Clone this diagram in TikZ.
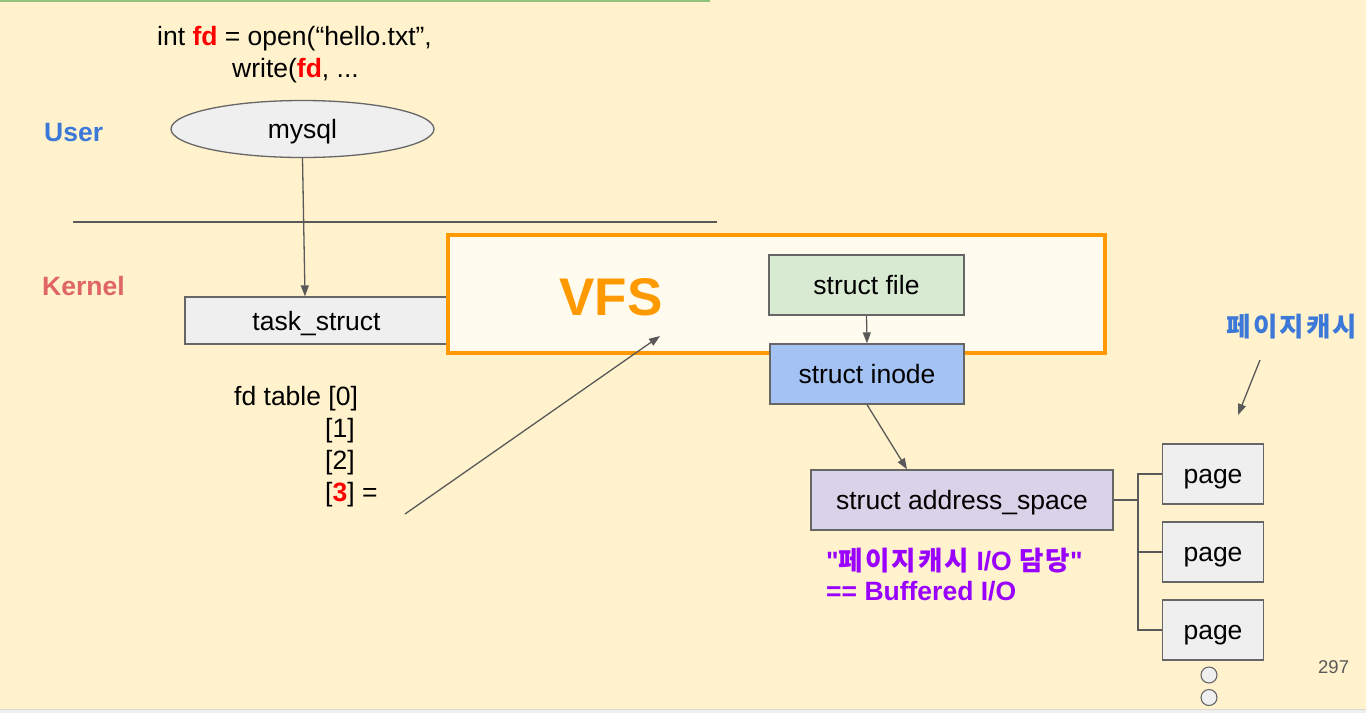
\documentclass[tikz,border=0pt]{standalone}
\usepackage{fontspec}
\setmainfont{Liberation Sans}[Ligatures=TeXOff]
\newfontfamily\kr{Noto Sans CJK KR}[LetterSpace=8]
\usetikzlibrary{arrows.meta,shapes.geometric}
\definecolor{bgc}{HTML}{FFF2CC}
\definecolor{linec}{HTML}{595959}
\definecolor{boxline}{HTML}{666666}
\definecolor{greyfill}{HTML}{EFEFEF}
\definecolor{vfsorange}{HTML}{FF9900}
\definecolor{ivory}{HTML}{FFFCEF}
\definecolor{filegreen}{HTML}{D9EAD3}
\definecolor{inodeblue}{HTML}{A4C2F4}
\definecolor{aspurple}{HTML}{D9D2E9}
\definecolor{userblue}{HTML}{3C78D8}
\definecolor{kernelred}{HTML}{E06666}
\definecolor{txtpurple}{HTML}{9900FF}
\definecolor{topgreen}{HTML}{93C47D}
\definecolor{codered}{HTML}{FF0000}
\newcommand\myfs{\fontsize{26.5}{32}\selectfont}
\begin{document}
\begin{tikzpicture}[x=1pt,y=-1pt,
  boxnode/.style={draw=boxline, line width=1.3pt, inner sep=0pt, font=\myfs,
    text height=23pt, text depth=3.5pt},
  txt/.style={inner sep=0pt, anchor=base west, font=\myfs},
  conn/.style={draw=linec, line width=1.3pt},
  arr/.style={conn, -{Triangle[length=11pt,width=8pt]}}
]
\useasboundingbox (0,0) rectangle (1366,713);
\fill[bgc] (0,0) rectangle (1366,709);
\fill[greyfill] (0,709) rectangle (1366,713);
\draw[color=black!15, line width=1pt] (0,709.5) -- (1366,709.5);
\draw[topgreen, line width=2pt] (0,0.8) -- (710,0.8);

% code text
\node[txt] (code1) at (157,45) {int \textcolor{codered}{\bfseries fd} = open(“hello.txt”,};
\node[txt] (code2) at (232,77) {write(\textcolor{codered}{\bfseries fd}, ...};

% labels
\node[txt, font=\myfs\bfseries, text=userblue] (user) at (44,141) {User};
\node[txt, font=\myfs\bfseries, text=kernelred] (kernel) at (42,295) {Kernel};

% user/kernel separator
\coordinate (sepL) at (73,222);
\coordinate (sepR) at (717,222);
\draw[conn] (sepL) -- (sepR);

% mysql
\node[ellipse, draw=boxline, line width=1.3pt, fill=greyfill, minimum width=263pt,
  minimum height=57pt, inner sep=0pt, font=\myfs, text height=23pt, text depth=3.5pt]
  (mysql) at (302.5,129) {mysql};

% task_struct
\node[boxnode, fill=greyfill, minimum width=263pt, minimum height=47pt] (task) at (316.5,320.5) {task\_struct};

% VFS container
\node[draw=vfsorange, line width=3.5pt, fill=ivory, minimum width=657pt, minimum height=118pt, inner sep=0pt]
  (vfs) at (776.5,294) {};
\node[inner sep=0pt, anchor=base, font=\fontsize{53}{60}\selectfont\bfseries, text=vfsorange] (vfst) at (611,315) {VFS};

\node[boxnode, fill=filegreen, minimum width=195pt, minimum height=60pt] (file) at (866.5,285) {struct file};
\node[boxnode, fill=inodeblue, minimum width=194pt, minimum height=60pt] (inode) at (867,374) {struct inode};
\node[boxnode, fill=aspurple, minimum width=302pt, minimum height=60pt] (as) at (962,500) {struct address\_space};

% pages
\node[boxnode, fill=greyfill, minimum width=101pt, minimum height=60pt] (p1) at (1213,474) {page};
\node[boxnode, fill=greyfill, minimum width=101pt, minimum height=60pt] (p2) at (1213,552) {page};
\node[boxnode, fill=greyfill, minimum width=101pt, minimum height=60pt] (p3) at (1213,630) {page};
\node[circle, draw=boxline, line width=1.1pt, fill=greyfill, minimum size=16pt, inner sep=0pt] (c1) at (1209,675) {};
\node[circle, draw=boxline, line width=1.1pt, fill=greyfill, minimum size=16pt, inner sep=0pt] (c2) at (1209,697.5) {};

% fd table
\node[txt] (fd0) at (234,405) {fd table [0]};
\node[txt] (fd1) at (325,437) {[1]};
\node[txt] (fd2) at (325,469) {[2]};
\node[txt] (fd3) at (325,501) {[\textcolor{codered}{\bfseries 3}] =};

% page cache label
\node[inner sep=0pt, font=\fontsize{26.5}{32}\kr\bfseries, text=userblue] (pclabel) at (1292,327) {페이지캐시};

% purple note
\node[txt, font=\myfs\bfseries, text=txtpurple] (note1) at (826,570) {"{\kr 페이지캐시} I/O {\kr 담당}"};
\node[txt, font=\myfs\bfseries, text=txtpurple] (note2) at (826,600) {== Buffered I/O};

% slide number
\node[txt, font=\fontsize{18.5}{22}\selectfont, text=linec] (num) at (1318,673) {297};

% connectors
\draw[arr] (mysql.south) -- ([xshift=-11.5pt]task.north);
\draw[arr] (file.south) -- (inode.north);
\draw[arr] (inode.south) -- ([xshift=-55pt]as.north);
\coordinate (fdfrom) at (405,514);
\coordinate (fdto) at (660,336);
\draw[arr] (fdfrom) -- (fdto);
\coordinate (pcfrom) at (1260,360);
\coordinate (pcto) at (1238,415);
\draw[arr] (pcfrom) -- (pcto);

\coordinate (br) at (1138,500);
\draw[conn] (as.east) -- (br);
\draw[conn] (br) |- (p1.west);
\draw[conn] (br) |- (p2.west);
\draw[conn] (br) |- (p3.west);
\end{tikzpicture}
\end{document}
